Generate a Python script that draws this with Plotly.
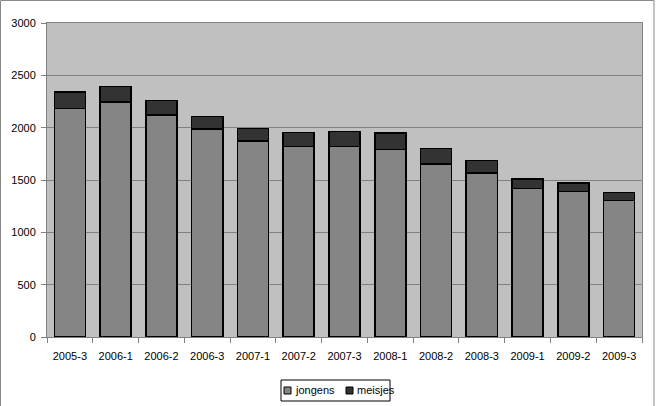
import plotly.graph_objects as go

categories = ["2005-3", "2006-1", "2006-2", "2006-3", "2007-1", "2007-2", "2007-3",
              "2008-1", "2008-2", "2008-3", "2009-1", "2009-2", "2009-3"]
jongens = [2185, 2245, 2122, 1985, 1873, 1819, 1819, 1793, 1652, 1566, 1419, 1390, 1304]
meisjes = [157, 149, 138, 121, 118, 134, 143, 156, 148, 121, 93, 84, 77]
y_ticks = [0, 500, 1000, 1500, 2000, 2500, 3000]
series_names = ["jongens", "meisjes"]
series_colors = ["#858585", "#333333"]

W, H = 656, 406
L, R, T, B = 47, 14, 23, 69
pw, ph = W - L - R, H - T - B


def px(x):
    return (x - L) / pw


def py(y):
    return (H - B - y) / ph


fig = go.Figure()
for name, vals, col in zip(series_names, [jongens, meisjes], series_colors):
    fig.add_trace(go.Bar(x=categories, y=vals, name=name,
                         marker=dict(color=col, line=dict(color="#000000", width=1.6))))

shapes = [
    dict(type="rect", xref="paper", yref="paper",
         x0=px(0.5), x1=px(654), y0=py(412), y1=py(0.5),
         line=dict(color="#8a8a8a", width=1), fillcolor="rgba(0,0,0,0)", layer="below"),
    # legend box
    dict(type="rect", xref="paper", yref="paper",
         x0=px(281), x1=px(390), y0=py(401), y1=py(380),
         line=dict(color="#000000", width=1), fillcolor="#ffffff"),
]
annotations = []
leg_sq_x = [284, 346]
leg_tx_x = [293, 355]
for name, col, sx, tx in zip(series_names, series_colors, leg_sq_x, leg_tx_x):
    shapes.append(dict(type="rect", xref="paper", yref="paper",
                       x0=px(sx), x1=px(sx + 7), y0=py(394), y1=py(387),
                       line=dict(color="#000000", width=1), fillcolor=col))
    annotations.append(dict(text=name, xref="paper", yref="paper", x=px(tx), y=py(390.5),
                            xanchor="left", yanchor="middle", showarrow=False,
                            font=dict(size=11, color="#000000")))

fig.update_layout(
    width=W, height=H, barmode="stack", bargap=0.32,
    margin=dict(l=L, r=R, t=T, b=B, autoexpand=False),
    paper_bgcolor="#ffffff", plot_bgcolor="#c0c0c0",
    font=dict(family="Liberation Sans, Arial", size=11, color="#000000"),
    showlegend=False,
    xaxis=dict(type="category", showgrid=False, showline=True, linecolor="#808080", linewidth=1,
               mirror=True, ticks="outside", tickson="boundaries", ticklen=5, tickcolor="#808080",
               ticklabelstandoff=9, tickfont=dict(size=11)),
    yaxis=dict(range=[0, 3000], tickvals=y_ticks, showgrid=True, gridcolor="#808080", gridwidth=1,
               showline=True, linecolor="#808080", linewidth=1, mirror=True,
               ticks="outside", ticklen=5, tickcolor="#808080", zeroline=False,
               ticklabelstandoff=3, tickfont=dict(size=11)),
    shapes=shapes,
    annotations=annotations,
)

fig.write_html("out.html")
